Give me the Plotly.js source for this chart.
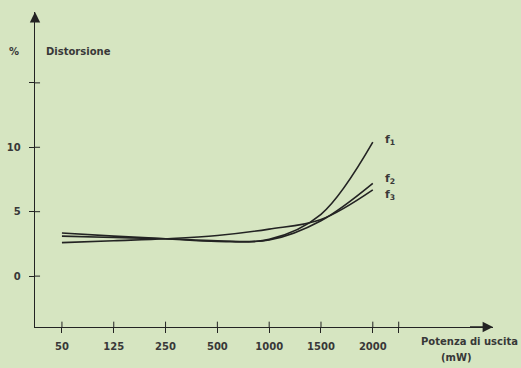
<!DOCTYPE html>
<html>
<head>
<meta charset="utf-8">
<script src="https://cdn.plot.ly/plotly-3.0.1.min.js"></script>
<style>html,body{margin:0;padding:0;background:#d6e5c1;}#chart{width:521px;height:368px;}</style>
</head>
<body>
<div id="chart"></div>
<script>
// Output power categories (mW)
const categories = ["50", "125", "250", "500", "1000", "1500", "2000"];
const xIndex = [0, 1, 2, 3, 4, 5, 6];
// Distortion (%) for each curve
const f1 = [3.35, 3.1, 2.9, 2.7, 2.85, 4.8, 10.4];
const f2 = [3.1, 3.0, 2.9, 2.75, 2.8, 4.3, 7.2];
const f3 = [2.6, 2.75, 2.9, 3.15, 3.65, 4.4, 6.7];
const yTickVals = [0, 5, 10, 15];
const yTickText = ["0", "5", "10", " "];
const xTickVals = [0, 1, 2, 3, 4, 5, 6, 6.5];
const xTickText = categories.concat([" "]);

const ink = "#232323";
const txt = "#383838";
const fam = "DejaVu Sans, sans-serif";
const fnt = {family: fam, size: 10, color: txt, weight: "bold"};
const lblFnt = {family: fam, size: 11, color: txt, weight: "bold"};

function curve(y, name) {
  return {x: xIndex, y: y, name: name, type: "scatter", mode: "lines",
    line: {color: ink, width: 1.6, shape: "spline", smoothing: 1}, hoverinfo: "skip", showlegend: false};
}
const traces = [curve(f1, "f1"), curve(f2, "f2"), curve(f3, "f3")];

const xr = [-0.52, 8.32], yr = [-3.95, 20.5];

// Inner halves of the crossing tick marks (outer halves come from the axes)
const shapes = [];
xTickVals.forEach(v => shapes.push({type: "line", xref: "x", yref: "paper",
  x0: v, x1: v, y0: 0, y1: 0.017, line: {color: ink, width: 1}}));
yTickVals.forEach(v => shapes.push({type: "line", xref: "paper", yref: "y",
  x0: 0, x1: 0.011, y0: v, y1: v, line: {color: ink, width: 1}}));

const layout = {
  width: 521, height: 368,
  margin: {l: 35, r: 28, t: 12, b: 41},
  paper_bgcolor: "#d6e5c1", plot_bgcolor: "#d6e5c1",
  font: fnt,
  shapes: shapes,
  xaxis: {range: xr, tickvals: xTickVals, ticktext: xTickText, ticks: "outside", ticklen: 5,
    tickcolor: ink, tickwidth: 1, showline: true, linecolor: ink, linewidth: 1.3,
    showgrid: false, zeroline: false, ticklabelstandoff: 5, tickfont: fnt},
  yaxis: {range: yr, tickvals: yTickVals, ticktext: yTickText, ticks: "outside", ticklen: 5,
    tickcolor: ink, tickwidth: 1, showline: true, linecolor: ink, linewidth: 1.3,
    showgrid: false, zeroline: false, ticklabelstandoff: 6, tickfont: fnt},
  annotations: [
    {xref: "x", yref: "y", x: 8.32, y: -3.95, ax: -26, ay: 0, showarrow: true, arrowhead: 2,
     arrowsize: 1.3, arrowwidth: 1.6, arrowcolor: ink, text: " "},
    {xref: "x", yref: "y", x: -0.52, y: 20.5, ax: 0, ay: 16, showarrow: true, arrowhead: 2,
     arrowsize: 1.3, arrowwidth: 1.6, arrowcolor: ink, text: " "},
    {xref: "paper", yref: "paper", x: 0.02, y: 0.875, xanchor: "left", yanchor: "middle",
     showarrow: false, text: "Distorsione", font: fnt},
    {xref: "paper", yref: "paper", x: -0.045, y: 0.875, xanchor: "center", yanchor: "middle",
     showarrow: false, text: "%", font: fnt},
    {xref: "paper", yref: "paper", x: 1.06, y: -0.045, xanchor: "right", yanchor: "middle",
     showarrow: false, text: "Potenza di uscita", font: fnt},
    {xref: "paper", yref: "paper", x: 0.92, y: -0.097, xanchor: "center", yanchor: "middle",
     showarrow: false, text: "(mW)", font: fnt},
    {xref: "x", yref: "y", x: 6.2, y: 10.6, xanchor: "left", yanchor: "middle",
     showarrow: false, text: "f<sub>1</sub>", font: lblFnt},
    {xref: "x", yref: "y", x: 6.2, y: 7.5, xanchor: "left", yanchor: "middle",
     showarrow: false, text: "f<sub>2</sub>", font: lblFnt},
    {xref: "x", yref: "y", x: 6.2, y: 6.3, xanchor: "left", yanchor: "middle",
     showarrow: false, text: "f<sub>3</sub>", font: lblFnt}
  ]
};
Plotly.newPlot("chart", traces, layout, {staticPlot: true, displayModeBar: false});
</script>
</body>
</html>
